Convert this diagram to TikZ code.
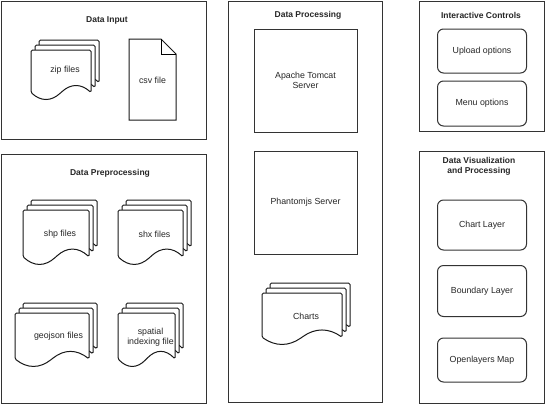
\documentclass[tikz,border=0pt]{standalone}
\usepackage{fontspec}
\setmainfont{Liberation Sans}
\usetikzlibrary{shadows}

\newcommand{\diagfont}{\fontsize{8.8}{10.5}\selectfont}
\newcommand{\titlefont}{\fontsize{8.5}{10.5}\selectfont\bfseries}

% one sheet with a wavy bottom edge
\newcommand{\docsheet}[4]{%
  \draw[sheet] ({#1},{(#2)+0.85*(#4)}) -- ({#1},{#2}) -- ({(#1)+(#3)},{#2})
    -- ({(#1)+(#3)},{(#2)+0.85*(#4)})
    .. controls ({(#1)+0.8333*(#3)},{(#2)+0.67*(#4)}) and ({(#1)+0.6667*(#3)},{(#2)+0.67*(#4)}) .. ({(#1)+0.5*(#3)},{(#2)+0.85*(#4)})
    .. controls ({(#1)+0.3333*(#3)},{(#2)+1.03*(#4)}) and ({(#1)+0.1667*(#3)},{(#2)+1.03*(#4)}) .. ({#1},{(#2)+0.85*(#4)}) -- cycle;}
% three stacked sheets
\newcommand{\multidoc}[4]{%
  \docsheet{(#1)+8}{#2}{(#3)-8}{(#4)-10}
  \docsheet{(#1)+4}{(#2)+5}{(#3)-8}{(#4)-10}
  \docsheet{#1}{(#2)+10}{(#3)-8}{(#4)-10}}

\tikzset{
  group/.style={draw=black!80, fill=white, drop shadow={shadow xshift=1pt, shadow yshift=-1.2pt, opacity=0.35, fill=black!60}},
  proc/.style={draw=black!80, fill=white, align=center},
  ctrl/.style={draw=black!80, fill=white, rounded corners=6pt, minimum width=89pt},
  sheet/.style={draw=black!90, fill=white, rounded corners=1.5pt},
  title/.style={font=\titlefont},
}

\begin{document}
\begin{tikzpicture}[x=1pt,y=-1pt,line width=1pt]
          \tikzstyle{every node}=[font=\diagfont, text=black!85]
          \useasboundingbox (0,0) rectangle (545,405);

            % group boxes
            \draw[group] (1,1) rectangle (206,139);
            \draw[group] (1,154) rectangle (206,403);
            \draw[group] (228,1) rectangle (382,402);
            \draw[group] (419,1) rectangle (544,131);
            \draw[group] (419,151) rectangle (544,403);

            \node[title] (inputT) at (107,20) {Data Input};
            \node[title] (prepT) at (110,173) {Data Preprocessing};
            \node[title] (procT) at (308,15) {Data Processing};
            \node[title] (ctrlT) at (481,15) {Interactive Controls};
            \node[title, align=center] (visT) at (479,166.5) {Data Visualization\\and Processing};

            % input
            \multidoc{31}{40}{68}{60}
            \node (zip) at (65,70) {zip files};
            \draw[sheet, rounded corners=0pt] (129,39) -- (161,39) -- (176,54) -- (176,120) -- (129,120) -- cycle;
            \draw (161,39) -- (161,54) -- (176,54);
            \node (csv) at (152.5,80) {csv file};

            % preprocessing
            \multidoc{23}{200}{74}{65}
            \node (shp) at (60,234) {shp files};
            \multidoc{118}{200}{73}{65}
            \node (shx) at (154.5,234) {shx files};
            \multidoc{15}{303}{82}{64}
            \node (geojson) at (58.5,336) {geojson files};
            \multidoc{118}{303}{65}{64}
            \node[align=center] (spatial) at (150.5,337) {spatial\\indexing file};

            % processing
            \node[proc, minimum width=103pt, minimum height=103pt] (tomcat) at (305.5,80.5) {Apache Tomcat\\Server};
            \node[proc, minimum width=103pt, minimum height=103pt] (phantom) at (305.5,202.5) {Phantomjs Server};
            \multidoc{262}{283}{88}{62}
            \node (charts) at (306,316) {Charts};

            % controls and layers
            \node[ctrl, minimum height=44pt] (upload) at (482,51) {Upload options};
            \node[ctrl, minimum height=45pt] (menu) at (482,103.5) {Menu options};
            \node[ctrl, minimum height=50pt] (chart) at (482,225) {Chart Layer};
            \node[ctrl, minimum height=51pt] (boundary) at (482,291) {Boundary Layer};
            \node[ctrl, minimum height=44pt] (olmap) at (482,360) {Openlayers Map};
        \end{tikzpicture}
\end{document}
